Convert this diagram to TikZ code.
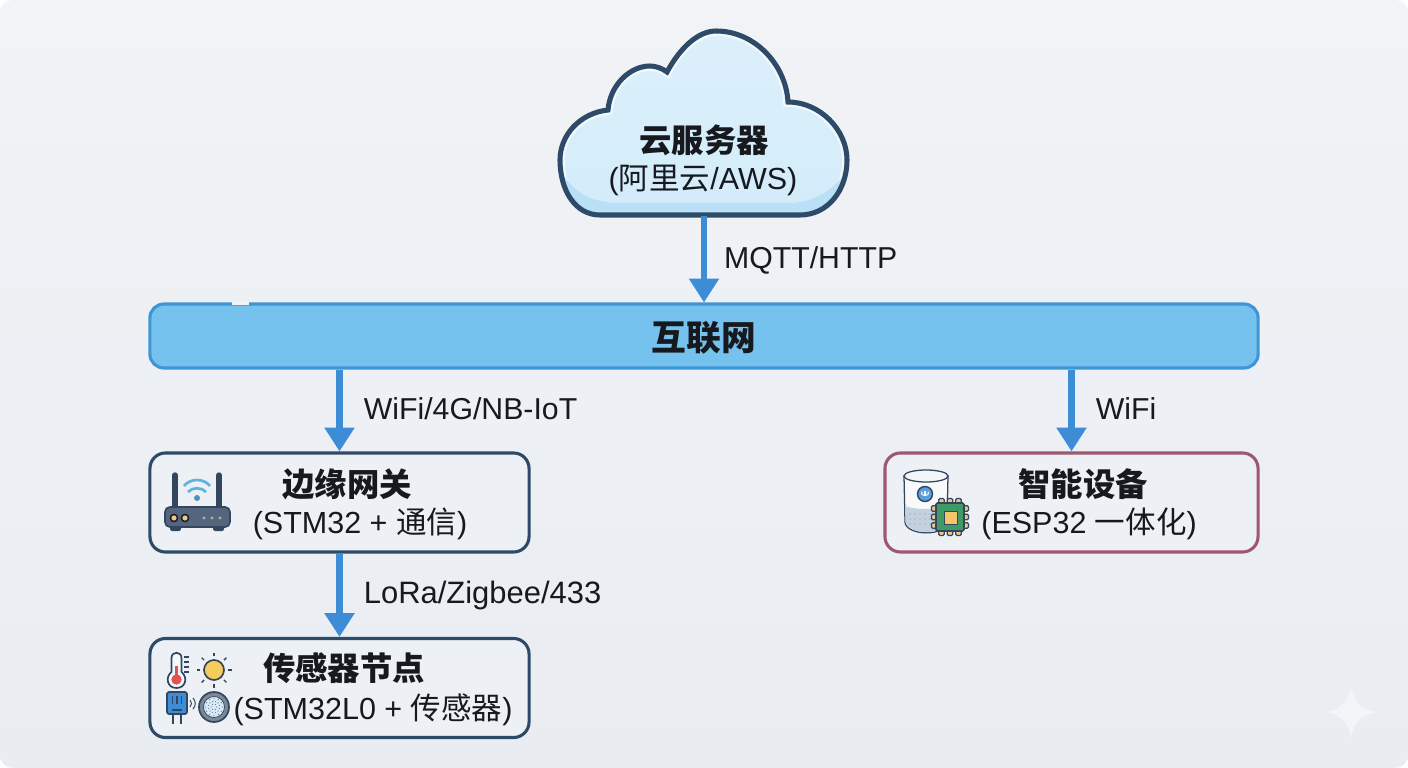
\documentclass[tikz,border=0pt]{standalone}
\usepackage{fontspec}
\setmainfont{Liberation Sans}
\newfontfamily\cjk{Noto Sans CJK SC}
\usetikzlibrary{arrows.meta}

\definecolor{pagebg}{HTML}{E9EDF2}
\definecolor{pagebgtop}{HTML}{F1F3F6}
\definecolor{inkblack}{HTML}{161A1F}
\definecolor{navyline}{HTML}{2D4A68}
\definecolor{plumline}{HTML}{A1566F}
\definecolor{arrowblue}{HTML}{3D8CD6}
\definecolor{barfill}{HTML}{75C2EF}
\definecolor{barline}{HTML}{3F95D5}
\definecolor{boxfill}{HTML}{EDF1F5}
\definecolor{iconslate}{HTML}{56657E}
\definecolor{icondark}{HTML}{34465E}
\definecolor{iconring}{HTML}{7D8896}
\definecolor{wifiblue}{HTML}{5DB3E0}
\definecolor{chipgreen}{HTML}{3F9A66}
\definecolor{chippin}{HTML}{E8C98A}
\definecolor{chipcore}{HTML}{F7C46C}
\definecolor{sunfill}{HTML}{F6CD5C}
\definecolor{meshgrey}{HTML}{C3D0DE}

\tikzset{
  cnlabel/.style={font=\fontsize{21.7}{26}\selectfont, text=inkblack, inner sep=0pt},
  cntitle/.style={font=\fontsize{23}{28}\selectfont\bfseries\cjk, text=inkblack, inner sep=0pt},
  linklabel/.style={font=\fontsize{21.5}{26}\selectfont, text=inkblack, inner sep=0pt},
  devicebox/.style={draw=navyline, fill=boxfill, line width=2.2pt, rounded corners=11pt,
    minimum width=9.475cm, minimum height=2.475cm},
  linkarrow/.style={draw=arrowblue, line width=4.7pt, -{Triangle[length=17pt,width=20.5pt]}},
  iconline/.style={draw=icondark, line width=1.2pt},
  pinbox/.style={draw=icondark, line width=0.9pt, fill=chippin, rounded corners=0.8pt}
}

\begin{document}
\begin{tikzpicture}[x=0.025cm, y=-0.025cm]

  % === Background ===
  \useasboundingbox (0,0) rectangle (1408,768);
  \fill[white] (0,0) rectangle (1408,768);
  \shade[top color=pagebgtop, bottom color=pagebg, rounded corners=9pt] (0,0) rectangle (1408,768);
  \fill[white!45!pagebg] (1351,688) .. controls (1355,703) and (1360,708) .. (1376,712)
    .. controls (1360,716) and (1355,721) .. (1351,737)
    .. controls (1347,721) and (1342,716) .. (1327,712)
    .. controls (1342,708) and (1347,703) .. (1351,688) -- cycle;

  % === Cloud server ===
  \def\cloudpath{(600,215) .. controls (575,215) and (560,190) .. (560,160)
    .. controls (560,135) and (580,113) .. (608,110)
    .. controls (610,85) and (630,66) .. (650,66)
    .. controls (655,66) and (662,68) .. (667,72)
    .. controls (680,48) and (698,31) .. (716,31)
    .. controls (755,31) and (786,65) .. (788,102)
    .. controls (820,102) and (847,130) .. (847,160)
    .. controls (847,190) and (828,215) .. (800,215) -- cycle}
  \begin{scope}
    \clip \cloudpath;
    \shade[top color=white!75!barfill, bottom color=white!68!barfill] (550,20) rectangle (860,225);
    \draw[white, line width=7pt, opacity=0.6] \cloudpath;
    \fill[white!50!barfill] (556,165) .. controls (575,195) and (590,202) .. (620,203)
      -- (790,203) .. controls (815,202) and (835,190) .. (852,165)
      -- (852,222) -- (556,222) -- cycle;
  \end{scope}
  \draw[navyline, line width=3.6pt] \cloudpath;
  \coordinate (cloudbase) at (704,216);
  \node[cntitle] (cloudtitle) at (704,140) {云服务器};
  \node[cnlabel] (cloudsub) at (703,180) {({\cjk 阿里云}/AWS)};

  % === Internet bar ===
  \node[draw=barline, fill=barfill, line width=2.2pt, rounded corners=10pt,
    minimum width=27.7cm, minimum height=1.6cm] (internet) at (704,336) {};
  \draw[pagebgtop, line width=1.8pt] (232,303.5) -- (249,303.5);
  \node[cntitle, font=\fontsize{24.7}{28}\selectfont\bfseries\cjk] (internettitle) at (704,338) {互联网};

  % === Device boxes ===
  \node[devicebox] (gateway) at (339.5,502.5) {};
  \node[cntitle] (gatewaytitle) at (347,484) {边缘网关};
  \node[cnlabel] (gatewaysub) at (360,524) {(STM32 + {\cjk 通信})};

  \node[devicebox] (sensor) at (339.5,688) {};
  \node[cntitle] (sensortitle) at (344,668) {传感器节点};
  \node[cnlabel] (sensorsub) at (373,710) {(STM32L0 + {\cjk 传感器})};

  \node[devicebox, draw=plumline, minimum width=9.325cm] (smart) at (1071.5,502.5) {};
  \node[cntitle] (smarttitle) at (1083,484) {智能设备};
  \node[cnlabel] (smartsub) at (1089,524) {(ESP32 {\cjk 一体化})};

  % === Links ===
  \draw[linkarrow] (cloudbase) -- (internet.north) node[midway, right, xshift=12pt, yshift=-0.5pt, linklabel] (mqttlabel) {MQTT/HTTP};
  \draw[linkarrow] (internet.south -| gateway.north) -- (gateway.north) node[midway, right, xshift=15pt, yshift=1.5pt, linklabel] (uplabel) {WiFi/4G/NB-IoT};
  \draw[linkarrow] (internet.south -| smart.north) -- (smart.north) node[midway, right, xshift=15pt, yshift=1.5pt, linklabel] (wifilabel) {WiFi};
  \draw[linkarrow] (gateway.south) -- (sensor.north) node[midway, right, xshift=15pt, yshift=-0.5pt, linklabel, font=\fontsize{22}{26}\selectfont] (loralabel) {LoRa/Zigbee/433};

  % === Router icon ===
  \draw[icondark, line width=3.8pt, line cap=round] (175,475) -- (175,507);
  \draw[icondark, line width=3.8pt, line cap=round] (219,475) -- (219,507);
  \fill[icondark, rounded corners=1.5pt] (170,524) rectangle (181,531);
  \fill[icondark, rounded corners=1.5pt] (213,524) rectangle (224,531);
  \draw[iconline, fill=iconslate, rounded corners=3.5pt] (165,507) rectangle (230,527);
  \fill[black!70!iconslate] (174,518) circle (4.4);
  \fill[black!70!iconslate] (185,518) circle (4.4);
  \fill[chippin] (174,518) circle (2.6);
  \fill[chippin] (185,518) circle (2.6);
  \foreach \ledx in {204,212,220} {
    \fill[chipgreen!60!white] (\ledx,518) circle (1.7);
  }
  \fill[wifiblue!70!icondark] (197,498) circle (3);
  \draw[wifiblue, line width=1.9pt] (188,492) .. controls (192,487) and (202,487) .. (206,492);
  \draw[wifiblue, line width=1.9pt] (184,486) .. controls (190,478) and (204,478) .. (210,486);

  % === Thermometer and sun ===
  \draw[iconline, fill=white!92!wifiblue] (171.5,672) -- (171.5,658) .. controls (171.5,651) and (181.5,651) .. (181.5,658)
    -- (181.5,672) .. controls (188,677) and (186,688) .. (176.5,688) .. controls (167,688) and (165,677) .. (171.5,672) -- cycle;
  \fill[red!65!white!90!black] (176.5,679.5) circle (5.2);
  \fill[red!65!white!90!black] (175,666) rectangle (178,678);
  \foreach \ticky in {657,662,667,672} {
    \draw[icondark, line width=1pt] (184,\ticky) -- (189,\ticky);
  }
  \draw[iconline, fill=sunfill] (214,670) circle (10);
  \foreach \rayangle in {0,45,...,315} {
    \draw[icondark, line width=1pt] ({214+14*cos(\rayangle)},{670+14*sin(\rayangle)})
      -- ({214+17.5*cos(\rayangle)},{670+17.5*sin(\rayangle)});
  }

  % === Sensor module and round mesh ===
  \draw[icondark, line width=1.6pt] (173,712) -- (173,724);
  \draw[icondark, line width=1.6pt] (181,712) -- (181,724);
  \draw[iconline, fill=arrowblue, rounded corners=1.5pt] (167,692) rectangle (187,714);
  \foreach \pinx in {172.5,177,181.5} {
    \draw[icondark, line width=0.8pt] (\pinx,696) -- (\pinx,704);
  }
  \draw[icondark, line width=0.8pt] (172,710) -- (182,710);
  \draw[icondark, line width=0.7pt] (190,700) .. controls (192,702) and (192,705) .. (190,707);
  \draw[icondark, line width=0.7pt] (193,698) .. controls (196,701) and (196,706) .. (193,709);
  \draw[iconline, fill=iconring] (214,707) circle (15);
  \draw[icondark, line width=0.5pt, fill=white!75!wifiblue] (214,707) circle (10.5);
  \foreach \meshangle in {0,30,...,330} {
    \fill[iconslate!80!white] ({214+8.5*cos(\meshangle)},{707+8.5*sin(\meshangle)}) circle (0.7);
    \fill[iconslate!80!white] ({214+5.7*cos(\meshangle+15)},{707+5.7*sin(\meshangle+15)}) circle (0.7);
  }
  \foreach \meshangle in {0,60,...,300} {
    \fill[iconslate!80!white] ({214+2.8*cos(\meshangle)},{707+2.8*sin(\meshangle)}) circle (0.7);
  }

  % === Smart speaker and chip ===
  \draw[iconline, line width=0.9pt, fill=white!88!meshgrey] (904,476) -- (905,522)
    .. controls (906,536) and (946,537) .. (947,522) -- (948,476) -- cycle;
  \fill[meshgrey] (905,506) -- (905.5,522) .. controls (907,535) and (945,536) .. (946.5,522) -- (947,506)
    .. controls (935,510) and (915,510) .. (905,506) -- cycle;
  \foreach \doty in {514,519,524} {
    \foreach \dotx in {910,915,...,930} {
      \fill[iconslate!70!white] (\dotx,\doty) circle (0.7);
    }
  }
  \draw[iconline, line width=0.9pt, fill=white!80!meshgrey] (926,476) ellipse (22 and 6);
  \draw[icondark, line width=1pt, fill=arrowblue!85!white] (925,494) circle (7.5);
  \draw[white, line width=0.8pt] (925,490.5) -- (925,495);
  \draw[white, line width=0.7pt] (922,491.5) .. controls (919.5,497) and (930.5,497) .. (928,491.5);
  % chip pins on all four sides
  \foreach \pinoff in {-8.5,0,8.5} {
    \draw[pinbox] (950+\pinoff-2.7,498.5) rectangle (950+\pinoff+2.7,505);
    \draw[pinbox] (950+\pinoff-2.7,529) rectangle (950+\pinoff+2.7,535.5);
    \draw[pinbox] (931.5,517+\pinoff-2.7) rectangle (938,517+\pinoff+2.7);
    \draw[pinbox] (962,517+\pinoff-2.7) rectangle (968.5,517+\pinoff+2.7);
  }
  \draw[icondark, line width=1.1pt, fill=chipgreen, rounded corners=1pt] (936,503) rectangle (964,531);
  \draw[icondark, line width=0.5pt, fill=chipcore] (944,511) rectangle (957,524);

\end{tikzpicture}
\end{document}
